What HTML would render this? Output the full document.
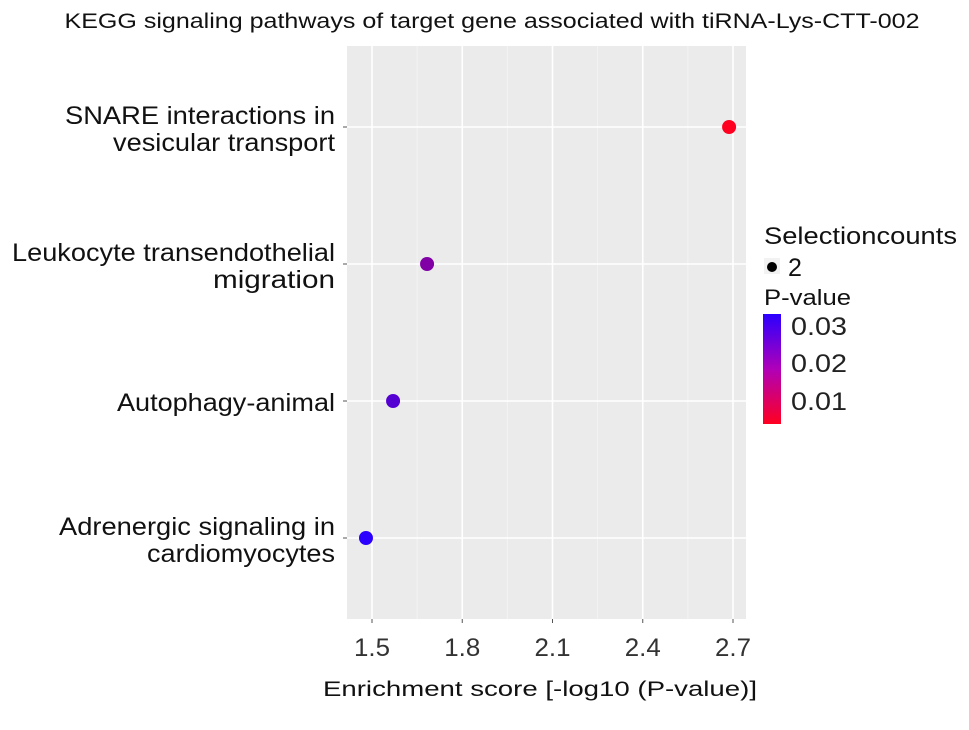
<!DOCTYPE html>
<html><head><meta charset="utf-8"><style>
body{margin:0;background:#fff;font-family:"Liberation Sans",sans-serif;}
text{font-family:"Liberation Sans",sans-serif;}
</style></head><body>
<svg width="969" height="725" xmlns="http://www.w3.org/2000/svg">
<defs><linearGradient id="cg" x1="0" y1="0" x2="0" y2="1">
<stop offset="0" stop-color="#2b00ff"/><stop offset="0.5" stop-color="#b000b8"/><stop offset="1" stop-color="#ff0020"/></linearGradient></defs>
<text x="492" y="28" font-size="21" text-anchor="middle" textLength="855" lengthAdjust="spacingAndGlyphs" fill="#111">KEGG signaling pathways of target gene associated with tiRNA-Lys-CTT-002</text>
<g id="panel"></g>
<text x="540" y="696" font-size="21" text-anchor="middle" textLength="434" lengthAdjust="spacingAndGlyphs" fill="#111">Enrichment score [-log10 (P-value)]</text>
<g>
<text x="764" y="244" font-size="24" textLength="193" lengthAdjust="spacingAndGlyphs" fill="#111">Selectioncounts</text>
<rect x="764" y="258" width="16" height="16" fill="#f2f2f2"/>
<circle cx="772" cy="267" r="5" fill="#000"/>
<text x="788" y="276" font-size="25" fill="#111">2</text>
<text x="764" y="305" font-size="22" textLength="87" lengthAdjust="spacingAndGlyphs" fill="#111">P-value</text>
<rect x="763" y="314" width="18" height="110" fill="url(#cg)"/>
<text x="791" y="335" font-size="25" textLength="56" lengthAdjust="spacingAndGlyphs" fill="#222">0.03</text>
<text x="791" y="372" font-size="25" textLength="56" lengthAdjust="spacingAndGlyphs" fill="#222">0.02</text>
<text x="791" y="410" font-size="25" textLength="56" lengthAdjust="spacingAndGlyphs" fill="#222">0.01</text>
</g>
</svg>
<script>
const categories=["SNARE interactions in|vesicular transport","Leukocyte transendothelial|migration","Autophagy-animal","Adrenergic signaling in|cardiomyocytes"];
const scores=[2.687,1.683,1.570,1.480];
const pvalues=[0.002,0.0207,0.0269,0.033];
const xTicks=[1.5,1.8,2.1,2.4,2.7];
const xTickLabels=["1.5","1.8","2.1","2.4","2.7"];
const labelWidths={"SNARE interactions in":270,"vesicular transport":222,"Leukocyte transendothelial":323,"migration":122,"Autophagy-animal":218,"Adrenergic signaling in":276,"cardiomyocytes":188};
const NS="http://www.w3.org/2000/svg";
const g=document.getElementById('panel');
const L=347,R=746,T=46,B=619;
const x=v=>372+(v-1.5)*(733-372)/1.2;
const y=i=>127+i*137;
function mk(t,a,p){const e=document.createElementNS(NS,t);for(const k in a)e.setAttribute(k,a[k]);(p||g).appendChild(e);return e;}
const bg=mk('rect',{x:L,y:T,width:R-L,height:B-T,fill:'#ebebeb'});


for(let i=0;i<xTicks.length;i++){
 const v=xTicks[i];
 if(i<xTicks.length-1){mk('line',{x1:x(v+0.15),x2:x(v+0.15),y1:T,y2:B,stroke:'#f4f4f4','stroke-width':0.8});}
 const gl=mk('line',{x1:x(v),x2:x(v),y1:T,y2:B,stroke:'#fff','stroke-width':1.6});
 
 
 mk('line',{x1:x(v),x2:x(v),y1:B,y2:B+4,stroke:'#555'});
 const t=mk('text',{x:x(v),y:656,'font-size':25,'text-anchor':'middle',fill:'#333',textLength:36,lengthAdjust:'spacingAndGlyphs'});
 t.textContent=xTickLabels[i];
 
 
}
const pmin=0.002,pmax=0.0331;
function col(p){let f=(p-pmin)/(pmax-pmin);f=Math.max(0,Math.min(1,f));
 const r=Math.round(255*(1-f)+43*f),b=Math.round(32*(1-f)+255*f);return `rgb(${r},0,${b})`;}
for(let i=0;i<categories.length;i++){
 const gl=mk('line',{x1:L,x2:R,y1:y(i),y2:y(i),stroke:'#fff','stroke-width':1.6});
 
 
 mk('line',{x1:L-4,x2:L,y1:y(i),y2:y(i),stroke:'#555'});
 const lines=categories[i].split('|');
 lines.forEach((s,j)=>{
  const by=lines.length===1?y(i)+10:y(i)-3+j*27;
  const t=mk('text',{x:335,y:by,'font-size':25,'text-anchor':'end',fill:'#111'});
  if(labelWidths[s]){t.setAttribute('textLength',labelWidths[s]);t.setAttribute('lengthAdjust','spacingAndGlyphs');}
  t.textContent=s;
  
  
 });
}
for(let i=0;i<categories.length;i++){
 const c=mk('circle',{cx:x(scores[i]),cy:y(i),r:7,fill:col(pvalues[i])});
 
 
}
</script>
</body></html>
